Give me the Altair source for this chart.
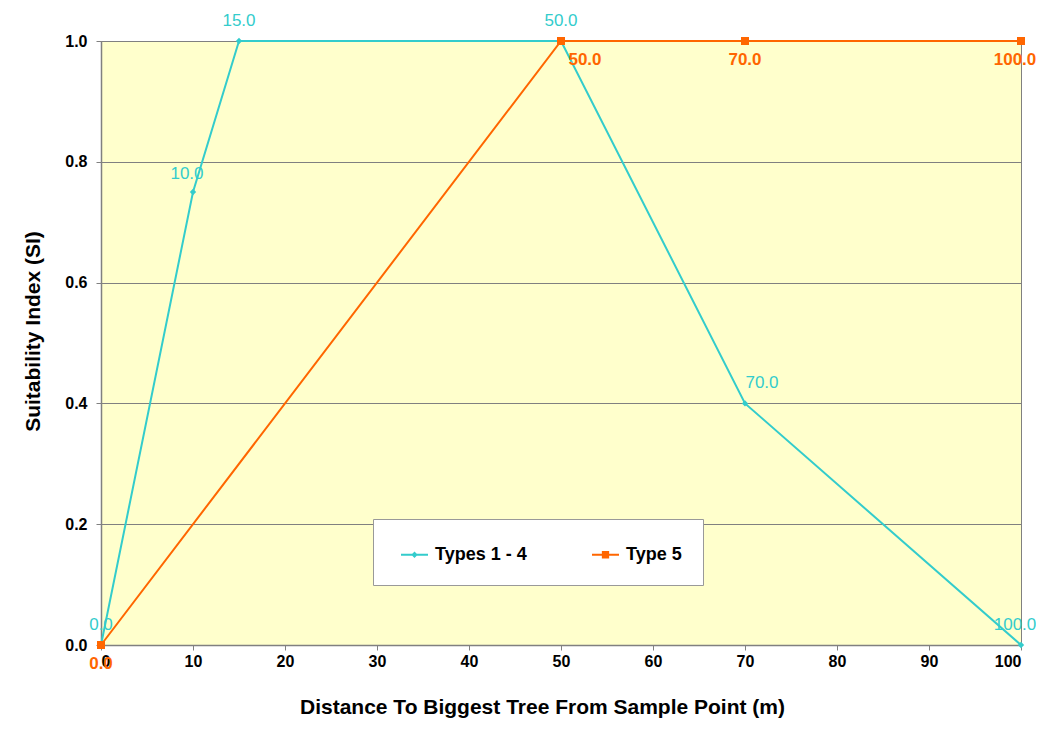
import altair as alt
import pandas as pd

# ---- data ----
series_a = "Types 1 - 4"
x_a = [0, 10, 15, 50, 70, 100]
si_a = [0.0, 0.75, 1.0, 1.0, 0.4, 0.0]

series_b = "Type 5"
x_b = [0, 50, 70, 100]
si_b = [0.0, 1.0, 1.0, 1.0]

x_ticks = [0, 10, 20, 30, 40, 50, 60, 70, 80, 90, 100]
y_ticks = [0.0, 0.2, 0.4, 0.6, 0.8, 1.0]

series_order = [series_a, series_b]
colors = ["#33CCCC", "#FF6600"]

df = pd.concat([
    pd.DataFrame({"dist": x_a, "si": si_a, "series": series_a}),
    pd.DataFrame({"dist": x_b, "si": si_b, "series": series_b}),
], ignore_index=True)

FONT = "Liberation Sans"

# legend symbols: a short line with a marker on it (drawn as filled shapes)
bar = "M-1,-0.075H1V0.075H-1Z"
sq_path = bar + "M-0.27,-0.27H0.27V0.27H-0.27Z"
dm_path = bar + "M0,-0.24L0.24,0L0,0.24L-0.24,0Z"

x_enc = alt.X("dist:Q", scale=alt.Scale(domain=[0, 100], nice=False),
              axis=alt.Axis(values=x_ticks, title="Distance To Biggest Tree From Sample Point (m)",
                            grid=False, labelPadding=3, titlePadding=27, titleX=441))
y_enc = alt.Y("si:Q", scale=alt.Scale(domain=[0, 1], nice=False),
              axis=alt.Axis(values=y_ticks, format=".1f", title="Suitability Index (SI)",
                            grid=True, labelPadding=9, titlePadding=21, titleY=290))

base = alt.Chart(df)


def only(series):
    return base.transform_filter(f"datum.series === '{series}'")


def line(series, color):
    return only(series).mark_line(strokeWidth=2, color=color).encode(x=x_enc, y=y_enc)


def pts(series, color, shape, size):
    return only(series).mark_point(
        filled=True, opacity=1, shape=shape, size=size, color=color
    ).encode(x="dist:Q", y="si:Q")


legend_props = dict(
    title=None, orient="none", legendX=272, legendY=478,
    direction="horizontal", fillColor="white", strokeColor="#999999",
    padding=21, columnPadding=58, symbolSize=729, symbolOffset=6,
    labelFont=FONT, labelFontSize=18, labelFontWeight="bold",
    labelColor="black", labelOffset=6,
)

legend_layer = base.transform_filter("false").mark_point(filled=True, opacity=1).encode(
    x="dist:Q", y="si:Q",
    color=alt.Color("series:N", scale=alt.Scale(domain=series_order, range=colors),
                    legend=alt.Legend(**legend_props)),
    shape=alt.Shape("series:N", scale=alt.Scale(domain=series_order, range=[dm_path, sq_path]),
                    legend=alt.Legend(**legend_props)),
)


def labels(series, color, dy, dx, test, weight):
    return only(series).transform_filter(test).mark_text(
        dy=dy, dx=dx, font=FONT, fontSize=17, fontWeight=weight, color=color
    ).encode(x="dist:Q", y="si:Q", text=alt.Text("dist:Q", format=".1f"))


layers = [
    line(series_a, colors[0]),
    line(series_b, colors[1]),
    pts(series_a, colors[0], "diamond", 40),
    pts(series_b, colors[1], "square", 64),
    legend_layer,
    labels(series_a, colors[0], -20, 0, "datum.dist === 0 || datum.dist === 15 || datum.dist === 50", "normal"),
    labels(series_a, colors[0], -20, 17, "datum.dist === 70", "normal"),
    labels(series_a, colors[0], -18, -6, "datum.dist === 10", "normal"),
    labels(series_a, colors[0], -20, -6, "datum.dist === 100", "normal"),
    labels(series_b, colors[1], 19, 0, "datum.dist === 0 || datum.dist === 70", "bold"),
    labels(series_b, colors[1], 19, 24, "datum.dist === 50", "bold"),
    labels(series_b, colors[1], 19, -6, "datum.dist === 100", "bold"),
]

chart = alt.layer(*layers).properties(
    width=920, height=604,
    padding={"left": 93, "top": 33, "right": 15, "bottom": 80},
    autosize=alt.AutoSizeParams(type="none"),
    background="white",
).configure_view(
    fill="#FFFFCC", stroke="#808080", strokeWidth=1,
).configure_axis(
    domainColor="#808080", tickColor="#808080", gridColor="#808080",
    tickSize=5, labelFont=FONT, labelFontSize=16, labelFontWeight="bold",
    labelColor="black", titleFont=FONT, titleFontSize=21, titleFontWeight="bold",
    titleColor="black", domainWidth=1.5, gridWidth=1, gridOpacity=1,
)

chart.save("out.html", embed_options={"renderer": "svg", "actions": False})
